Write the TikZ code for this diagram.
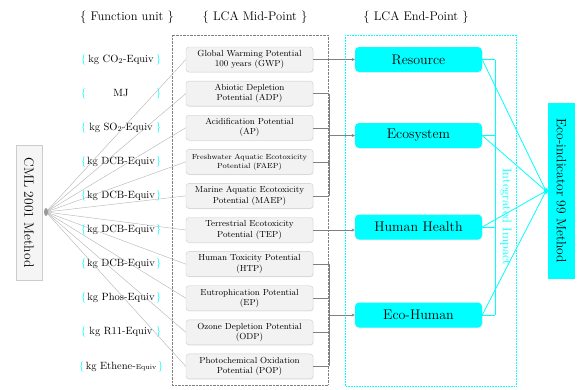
\documentclass[tikz,border=0pt]{standalone}
\usetikzlibrary{arrows, calc, shadows}

\definecolor{aqua}{RGB}{0,255,255}
\newcommand{\unitline}[2][80pt]{\makebox[#1]{\textcolor{aqua}{\{}\hfill #2\hfill\textcolor{aqua}{\}}}}

\begin{document}
\begin{tikzpicture}[node distance=34.1pt]
    \tikzstyle{header} = [font=\fontsize{12.5}{14}\selectfont]
    \tikzstyle{unit} = [inner sep=0pt, font=\fontsize{10.5}{12}\selectfont]
    \tikzstyle{midpoint} = [rectangle, rounded corners=3pt, minimum width=127pt, minimum height=25pt, text width=125pt, text centered, draw=gray!40, fill=gray!10, align=center, inner sep=1pt, font=\fontsize{8.8}{10.2}\selectfont, drop shadow={opacity=0.12, shadow xshift=0.6pt, shadow yshift=-0.8pt}]
    \tikzstyle{endpoint} = [rectangle, rounded corners=4pt, minimum width=127pt, minimum height=25pt, fill=aqua, text centered, font=\fontsize{14}{16}\selectfont, drop shadow={opacity=0.12, shadow xshift=0.6pt, shadow yshift=-0.8pt}]
    \tikzstyle{method} = [rectangle, rotate=-90, inner sep=2pt, text centered]
    \tikzstyle{arrow} = [gray, thin, ->, >=stealth]
    \tikzstyle{line} = [gray, thin]
    \tikzstyle{fanline} = [gray!60, thin]
    \tikzstyle{impactline} = [draw=aqua, line width=0.8pt]
    \useasboundingbox (0,0) rectangle (577pt,-389pt);
    % Frames
    \draw [gray, densely dotted] (172pt,-35pt) rectangle (328pt,-385pt);
    \draw [aqua, densely dotted, line width=0.6pt] (345pt,-35pt) rectangle (516pt,-386pt);
    % Headers
    \node (hunit) [header] at (127pt,-17pt) {\{ Function unit \}};
    \node (hmid) [header] at (255pt,-17pt) {\{ LCA Mid-Point \}};
    \node (hend) [header] at (416pt,-17pt) {\{ LCA End-Point \}};
    % Nodes
    \node (cml) [method, draw=gray!40, fill=gray!8, minimum width=135pt, minimum height=26pt, font=\fontsize{13.5}{15}\selectfont] at (29pt,-212.5pt) {CML 2001 Method};
    \node (gwp) [midpoint] at (249.5pt,-59.5pt) {Global Warming Potential\\100 years (GWP)};
    \node (adp) [midpoint, below of=gwp] {Abiotic Depletion\\Potential (ADP)};
    \node (ap) [midpoint, below of=adp] {Acidification Potential\\(AP)};
    \node (faep) [midpoint, below of=ap, font=\fontsize{7.4}{9}\selectfont] {Freshwater Aquatic Ecotoxicity\\Potential (FAEP)};
    \node (maep) [midpoint, below of=faep] {Marine Aquatic Ecotoxicity\\Potential (MAEP)};
    \node (tep) [midpoint, below of=maep] {Terrestrial Ecotoxicity\\Potential (TEP)};
    \node (htp) [midpoint, below of=tep] {Human Toxicity Potential\\(HTP)};
    \node (ep) [midpoint, below of=htp] {Eutrophication Potential\\(EP)};
    \node (odp) [midpoint, below of=ep] {Ozone Depletion Potential\\(ODP)};
    \node (pop) [midpoint, below of=odp] {Photochemical Oxidation\\Potential (POP)};
    \coordinate (ux) at (121pt,0);
    \node (u1) [unit] at (gwp -| ux) {\unitline{kg CO\textsubscript{2}-Equiv}};
    \node (u2) [unit] at (adp -| ux) {\unitline{MJ}};
    \node (u3) [unit] at (ap -| ux) {\unitline{kg SO\textsubscript{2}-Equiv}};
    \node (u4) [unit] at (faep -| ux) {\unitline{kg DCB-Equiv}};
    \node (u5) [unit] at (maep -| ux) {\unitline{kg DCB-Equiv}};
    \node (u6) [unit] at (tep -| ux) {\unitline{kg DCB-Equiv}};
    \node (u7) [unit] at (htp -| ux) {\unitline{kg DCB-Equiv}};
    \node (u8) [unit] at (ep -| ux) {\unitline{kg Phos-Equiv}};
    \node (u9) [unit] at (odp -| ux) {\unitline{kg R11-Equiv}};
    \node (u10) [unit] at (pop -| ux) {\unitline[84pt]{kg Ethene-{\scriptsize Equiv}}};
    \node (res) [endpoint] at (418.5pt,-59.5pt) {Resource};
    \node (eco) [endpoint] at (418.5pt,-135.5pt) {Ecosystem};
    \node (hh) [endpoint] at (418.5pt,-227pt) {Human Health};
    \node (ecohum) [endpoint] at (418.5pt,-315pt) {Eco-Human};
    \node (eco99) [method, fill=aqua, minimum width=176pt, minimum height=27pt, font=\fontsize{13.5}{15}\selectfont] at (561.5pt,-191pt) {Eco-indicator 99 Method};
    \node (integ) [rotate=-90, text=aqua, font=\fontsize{12.5}{14}\selectfont] at (506pt,-217pt) {Integrated Impact};
    % Arrows
    \coordinate (fan) at (46pt,-212pt);
    \foreach \m in {gwp,adp,ap,faep,maep,tep,htp,ep,odp,pop}
        \draw [fanline] (fan) -- (\m.west);
    \fill [gray!80] (fan) ellipse (2pt and 4pt);
    \draw [arrow] (gwp) -- (res);
    \draw [arrow] (tep.east) -- (tep.east -| hh.west);
    \coordinate (brx) at (329pt,0);
    \foreach \m in {adp,ap,faep,maep,htp,ep,odp,pop}
        \draw [line] (\m.east) -- (\m.east -| brx);
    \draw [line] (adp.east -| brx) -- (maep.east -| brx);
    \draw [line] (htp.east -| brx) -- (pop.east -| brx);
    \draw [arrow] (eco.west -| brx) -- (eco.west);
    \draw [arrow] (ecohum.west -| brx) -- (ecohum.west);
    \coordinate (hub) at (546pt,-191pt);
    \coordinate (ibx) at (495pt,0);
    \foreach \ep in {res,eco,hh,ecohum} {
        \draw [impactline] (\ep.east) -- (\ep.east -| ibx);
        \draw [impactline] (\ep.east) -- (hub);
    }
    \draw [impactline] (res.east -| ibx) -- (ecohum.east -| ibx);
    \fill [aqua] (hub) ellipse (2pt and 3pt);
\end{tikzpicture}
\end{document}
